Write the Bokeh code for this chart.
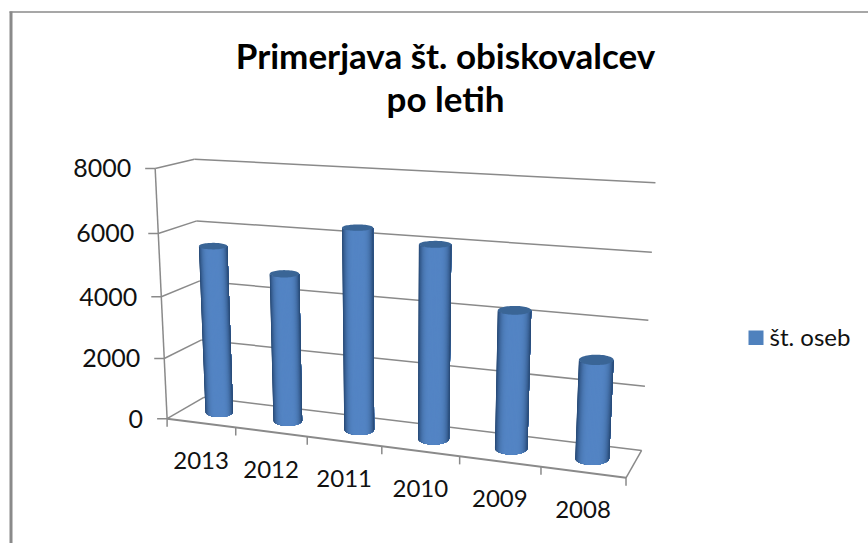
import numpy as np
from bokeh.plotting import figure
from bokeh.embed import file_html
from bokeh.resources import INLINE
from bokeh.core.properties import value

# ---- data
years = ["2013", "2012", "2011", "2010", "2009", "2008"]
visitors = [5470, 4770, 6370, 6030, 4250, 3000]
y_ticks = [0, 2000, 4000, 6000, 8000]
series_name = "št. oseb"
title_lines = ["Primerjava št. obiskovalcev", "po letih"]

# ---- camera calibration: (category, depth, value) -> page pixel of the 3-D box
CAL = [
    (0, 0, 8000, 154, 168), (0, 0, 6000, 158, 233), (0, 0, 4000, 162, 296),
    (0, 0, 2000, 164, 357), (0, 0, 0, 167, 418),
    (0, 1, 8000, 193, 158), (0, 1, 6000, 197, 220), (0, 1, 4000, 199, 281),
    (0, 1, 2000, 201, 341), (0, 1, 0, 203, 397),
    (6, 1, 8000, 655, 183), (6, 1, 6000, 651, 252), (6, 1, 4000, 648, 320),
    (6, 1, 2000, 645, 384), (6, 1, 0, 641, 449),
    (1, 0, 0, 234, 427), (2, 0, 0, 307, 436), (3, 0, 0, 381, 446),
    (4, 0, 0, 459, 456), (5, 0, 0, 540, 467), (6, 0, 0, 626, 478),
]
A, b = [], []
for t, d, v, px, py in CAL:
    w = v / 1000
    A.append([t, d, w, 1, 0, 0, 0, 0, -px * t, -px * d, -px * w]); b.append(px)
    A.append([0, 0, 0, 0, t, d, w, 1, -py * t, -py * d, -py * w]); b.append(py)
P = np.linalg.lstsq(np.array(A, float), np.array(b, float), rcond=None)[0]


def proj(t, d, v):
    t, d, w = np.asarray(t, float), np.asarray(d, float), np.asarray(v, float) / 1000
    h = P[8] * t + P[9] * d + P[10] * w + 1
    return (P[0] * t + P[1] * d + P[2] * w + P[3]) / h, (P[4] * t + P[5] * d + P[6] * w + P[7]) / h


p = figure(width=868, height=543, x_range=(0, 868), y_range=(543, 0),
           toolbar_location=None, output_backend="svg", min_border=0)
p.axis.visible = False
p.grid.visible = False
p.outline_line_color = None
p.background_fill_color = "white"

GREY = "#8a8a8a"
n = len(years)
FONT = value("Lato")


def seg(a, b, w=1.5):
    x0, y0 = proj(*a)
    x1, y1 = proj(*b)
    p.line([float(x0), float(x1)], [float(y0), float(y1)], line_color=GREY, line_width=w)


# page frame
p.line([9, 868], [11.5, 11.5], line_color=GREY, line_width=1.5)
p.quad(left=9, right=12, top=11, bottom=543, fill_color=GREY, line_color=None)

# walls, floor
for v in y_ticks:
    seg((0, 0, v), (0, 1, v))
    seg((0, 1, v), (n, 1, v))
    x0, y0 = proj(0, 0, v)
    p.line([float(x0) - 10, float(x0)], [float(y0)] * 2, line_color=GREY, line_width=1.5)
    p.text([float(x0) - 24], [float(y0)], text=[str(v)], text_font=FONT,
           text_font_size="25px", text_color="#111111", text_align="right", text_baseline="middle")
seg((0, 0, 0), (0, 0, max(y_ticks)))
seg((0, 0, 0), (n, 0, 0), 2)
seg((n, 0, 0), (n, 1, 0))
for i in range(n + 1):
    x0, y0 = proj(i, 0, 0)
    p.line([float(x0)] * 2, [float(y0), float(y0) + 8], line_color=GREY, line_width=1.5)

# cylinders: axis from projected base to projected top, ellipses from projected radii
RX, RD, N = 0.205, 0.24, 40
LIGHT, DARK = np.array([84, 133, 197]), np.array([38, 72, 115])


def ring(tc, dc, v):
    cx, cy = proj(tc, dc, v)
    xl, _ = proj(tc - RX, dc, v)
    xr, _ = proj(tc + RX, dc, v)
    _, yf = proj(tc, dc - RD, v)
    _, yb = proj(tc, dc + RD, v)
    return float(cx), float(cy), float(xr - xl) / 2, abs(float(yf - yb)) / 2


for i, val in enumerate(visitors):
    tc, dc = i + 0.5, 0.5
    bx, by, brx, bry = ring(tc, dc, 0)
    tx, ty, trx, try_ = ring(tc, dc, val)
    edges = np.linspace(np.pi, 2 * np.pi, N + 1)
    for k, a0 in enumerate(edges[:-1]):
        # every strip reaches the right edge; the next one paints over it, so no seams
        arc = np.linspace(a0, 2 * np.pi, 30)
        xs = list(bx + brx * np.cos(arc)) + list((tx + trx * np.cos(arc))[::-1])
        ys = list(by - bry * np.sin(arc)) + list((ty - try_ * np.sin(arc))[::-1])
        s = abs(np.cos(a0 + np.pi / N / 2)) ** 4
        c = LIGHT + (DARK - LIGHT) * s
        col = "#%02x%02x%02x" % tuple(int(q) for q in c)
        p.patch(xs, ys, fill_color=col, line_color=None)
    th = np.linspace(0, 2 * np.pi, 60)
    p.patch(list(tx + trx * np.cos(th)), list(ty + try_ * np.sin(th)), fill_color="#3a6596", line_color=None)

# category labels
for i, y in enumerate(years):
    x0, y0 = proj(i + 0.5, 0, 0)
    p.text([float(x0)], [float(y0) + 37], text=[y], text_font=FONT,
           text_font_size="24px", text_color="#111111", text_align="center", text_baseline="middle")

# title
for line, ty in zip(title_lines, [54, 97]):
    p.text([445], [ty], text=[line], text_font=FONT, text_font_style="bold",
           text_font_size="35px", text_color="#000000", text_align="center", text_baseline="middle")

# legend
p.quad(left=748, right=763, top=330, bottom=344.5, fill_color="#4f81bd", line_color=None)
p.text([769], [336], text=[series_name], text_font=FONT, text_font_size="24px",
       text_color="#111111", text_align="left", text_baseline="middle")

open("out.html", "w").write(file_html(p, INLINE))
